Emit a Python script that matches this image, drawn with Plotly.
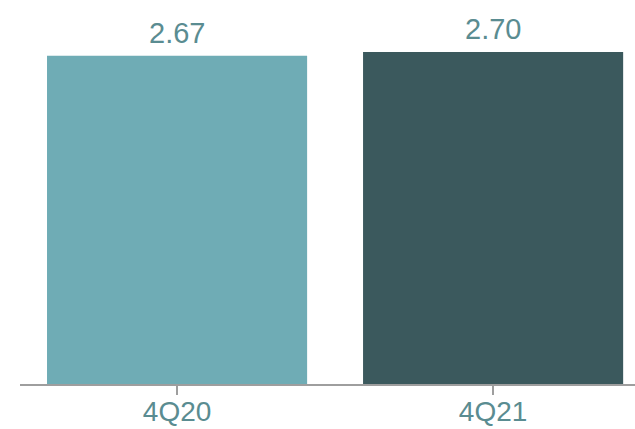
import plotly.graph_objects as go

# Quarterly values
quarters = ["4Q20", "4Q21"]
values = [2.67, 2.70]
bar_colors = ["#6FACB5", "#3B595D"]
value_labels = ["2.67", "2.70"]

text_color = "#5A8C91"
axis_color = "#9E9E9E"
font_family = "Liberation Sans, Arial, sans-serif"

fig = go.Figure()
fig.add_trace(go.Bar(
    x=[0, 1],
    y=values,
    marker=dict(color=bar_colors, line=dict(width=0)),
    width=0.823,
    hoverinfo="skip",
))

for i, (v, lab) in enumerate(zip(values, value_labels)):
    fig.add_annotation(
        x=i, y=v, text=lab, showarrow=False,
        xanchor="center", yanchor="bottom", yshift=5,
        font=dict(size=29, color=text_color, family=font_family),
    )

fig.update_layout(
    width=635, height=429,
    margin=dict(l=20, r=0, t=0, b=45, autoexpand=False),
    paper_bgcolor="white",
    plot_bgcolor="white",
    showlegend=False,
    font=dict(family=font_family, color=text_color),
    xaxis=dict(
        range=[-0.497, 1.449],
        tickmode="array", tickvals=[0, 1], ticktext=quarters,
        ticks="outside", ticklen=9, tickwidth=2, tickcolor=axis_color,
        ticklabelstandoff=-8,
        showline=True, linecolor=axis_color, linewidth=2,
        showgrid=False, zeroline=False, automargin=False,
        tickfont=dict(size=28, color=text_color, family=font_family),
        fixedrange=True,
    ),
    yaxis=dict(
        range=[0, 3.123],
        visible=False, showgrid=False, zeroline=False,
        fixedrange=True,
    ),
)

fig.write_html("out.html")
